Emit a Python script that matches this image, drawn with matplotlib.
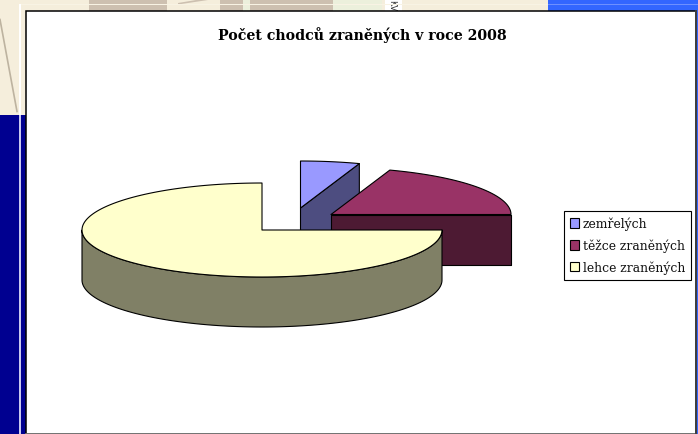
import numpy as np
import matplotlib
matplotlib.use("Agg")
import matplotlib.pyplot as plt
from matplotlib.patches import Polygon, Rectangle, Patch

title = "Počet chodců zraněných v roce 2008"
categories = ["zemřelých", "těžce zraněných", "lehce zraněných"]
values = [5.3, 19.7, 75.0]
top_colors = ["#9999FF", "#993366", "#FFFFCC"]
side_colors = ["#4D4D80", "#4D1A33", "#808066"]

fig = plt.figure(figsize=(6.98, 4.35), dpi=100)
ax = fig.add_axes([0, 0, 1, 1])
ax.set_xlim(0, 698)
ax.set_ylim(434.5, -0.5)
ax.axis("off")

# ---- slide background -------------------------------------------------
def box(x0, y0, x1, y1, c, z=1):
    ax.add_patch(Rectangle((x0, y0), x1 - x0, y1 - y0, fc=c, ec="none", zorder=z))

box(0, -1, 698, 436, "#000090", 0)
box(0, -1, 548, 115, "#F5EEDC")
for x0, x1 in [(89, 167), (220, 243), (250, 333)]:
    box(x0, -1, x1, 12, "#CDC0B0")
ax.add_patch(Polygon([(178, 3.5), (205, -1), (218, -1), (178, 5)], fc="#CDC0B0", ec="none", zorder=1))
box(243, -1, 250, 12, "#ECF0DC")
box(333, -1, 382, 12, "#ECF0DC")
box(385, -1, 402, 12, "#FFFFFF")
ax.text(392, 5, "KV", rotation=-90, fontsize=6, ha="center", va="center", color="#333333", zorder=2)
box(548, -1, 698, 12, "#3366FF")
box(696, -1, 698, 436, "#3366FF")
box(19, 4, 548, 5.5, "#F8F3E4", 2)
box(548, 4, 698, 5.5, "#6E90FF", 2)
box(19, 4, 21, 115, "#FFFFFF", 2)
box(19, 115, 21, 436, "#C8C8EE", 2)
box(21, 115, 25, 436, "#000090", 2)
ax.plot([0, 17], [20, 112], color="#BDB3A0", lw=1.2, zorder=2)

# ---- chart panel ------------------------------------------------------
ax.add_patch(Rectangle((26, 11), 670, 423, fc="white", ec="black", lw=1.1, zorder=3))
ax.plot([26, 696], [434, 434], color="#808080", lw=1.2, zorder=3.1)
ax.plot([696, 696], [11, 434], color="#404040", lw=1.4, zorder=3.1)
ax.text(362, 35, title, fontsize=10.2, fontweight="bold", family="DejaVu Serif",
        ha="center", va="center", color="black", zorder=4)

# ---- exploded 3-D pie ------------------------------------------------
rx, ry, depth = 180, 47, 50
centers = [(300.5, 208.5), (331, 215), (262, 230.5)]
outline = dict(ec="black", lw=0.8, joinstyle="round")

def rim(c, a0, a1):
    t = np.radians(np.linspace(a0, a1, 160))
    return np.column_stack([c[0] + rx * np.cos(t), c[1] - ry * np.sin(t)])

start = 90.0
z = 5
for i, (v, c) in enumerate(zip(values, centers)):
    end = start - v / sum(values) * 360
    arc = rim(c, start, end)
    if i == 2:
        edge = rim(c, 0, -180)                  # outer wall, front half of the rim
    else:
        lo = min(start, end)
        edge = np.vstack([c, rim(c, lo, lo)])   # radial cut wall
    wall = np.vstack([edge, (edge + [0, depth])[::-1]])
    ax.add_patch(Polygon(wall, fc=side_colors[i], zorder=z, **outline))
    ax.add_patch(Polygon(np.vstack([c, arc]), fc=top_colors[i], zorder=z + 0.5, **outline))
    z += 1
    start = end

# ---- legend -----------------------------------------------------------
handles = [Patch(fc=col, ec="black", lw=0.8) for col in top_colors]
leg = ax.legend(handles, categories, loc="upper left", bbox_to_anchor=(564 / 698, 1 - 211.5 / 435),
                borderaxespad=0, fancybox=False, edgecolor="black", framealpha=1,
                prop={"family": "DejaVu Serif", "size": 8.9}, handlelength=0.72, handleheight=0.8,
                handletextpad=0.28, labelspacing=0.68, borderpad=0.5, labelcolor="#111111")
leg.get_frame().set_linewidth(0.8)
leg.set_zorder(10)

fig.savefig("out.png", dpi=100)
